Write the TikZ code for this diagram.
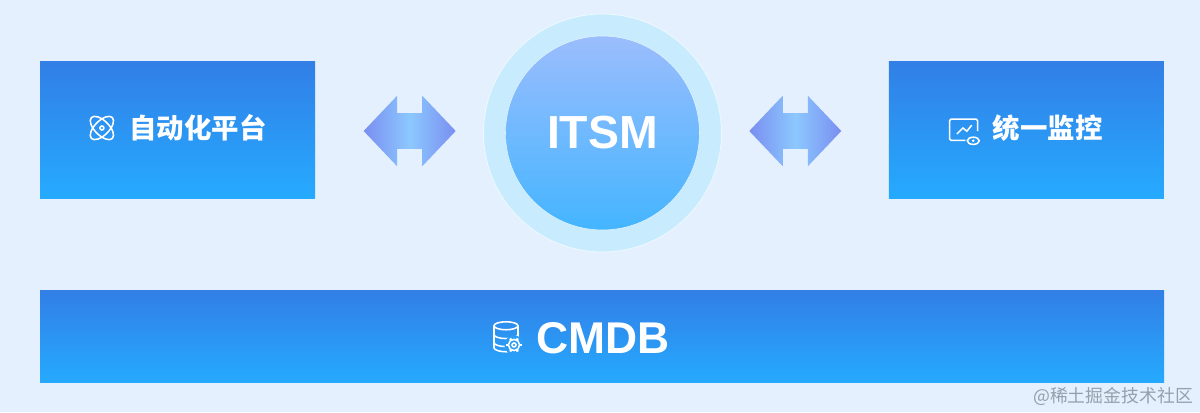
\documentclass[tikz,border=0pt]{standalone}
\usepackage{xcolor}
\usepackage{fontspec}
\setmainfont{Liberation Sans}
\newfontfamily\cjk{Noto Sans CJK SC}
\usepackage{tikz}
\usetikzlibrary{shapes,arrows,positioning,calc}
\definecolor{PageBlue}{RGB}{228, 240, 254}
\definecolor{BoxTop}{RGB}{50, 127, 230}
\definecolor{BoxBottom}{RGB}{37, 170, 254}
\definecolor{RingBlue}{RGB}{200, 236, 253}
\definecolor{CoreTop}{RGB}{155, 189, 253}
\definecolor{CoreBottom}{RGB}{68, 181, 255}
\definecolor{ArrowEnd}{RGB}{122, 142, 240}
\definecolor{ArrowMid}{RGB}{140, 200, 255}
\definecolor{MarkGray}{RGB}{150, 160, 172}
\tikzset{
  atomicon/.pic={
    \draw [rotate=45] (0,0) ellipse (0.37 and 0.18);
    \draw [rotate=-45] (0,0) ellipse (0.37 and 0.18);
    \draw (0,0) circle (0.05);
  },
  screenicon/.pic={
    \draw [rounded corners=1pt] (0.38,-0.28) -- (-0.35,-0.28) -- (-0.35,0.25) -- (0.35,0.25) -- (0.35,-0.05);
    \draw (-0.17,-0.12) -- (-0.02,0.03) -- (0.08,-0.05) -- (0.2,0.1);
    \fill [BoxTop!45!BoxBottom] (0.24,-0.29) ellipse (0.2 and 0.17);
    \draw (0.24,-0.29) ellipse (0.15 and 0.09);
    \fill (0.24,-0.29) circle (0.035);
  },
  dbicon/.pic={
    \draw (0,0.3) ellipse (0.3 and 0.1);
    \draw (-0.3,0.3) -- (-0.3,-0.25) arc (180:360:0.3 and 0.1);
    \draw (0.3,0.3) -- (0.3,-0.25);
    \draw (-0.3,0.08) arc (180:360:0.3 and 0.1);
    \draw (-0.3,-0.12) arc (180:360:0.3 and 0.1);
    \fill [BoxTop!35!BoxBottom] (0.2,-0.18) circle (0.24);
    \foreach \a in {0,60,...,300} {
      \draw [line width=1.6pt] (\a:0.14) ++(0.2,-0.18) -- ++(\a:0.05);
    }
    \draw (0.2,-0.18) circle (0.14);
    \draw (0.2,-0.18) circle (0.05);
  }
}
\begin{document}
\begin{tikzpicture}
  \tikzstyle{bluebox} = [rectangle, top color=BoxTop, bottom color=BoxBottom, minimum height=3.4cm, minimum width=6.875cm, inner sep=0pt]
  \tikzstyle{twoway} = [double arrow, double arrow tip angle=93, double arrow head extend=0.4375cm, text height=0.875cm, text width=0pt, minimum height=2.3cm, inner sep=0pt, left color=ArrowEnd, right color=ArrowEnd, middle color=ArrowMid]
  \tikzstyle{boxlabel} = [text=white, inner sep=0pt, font=\cjk\bfseries\fontsize{19.5pt}{22pt}\selectfont]
  \tikzstyle{iconline} = [white, line width=1.1pt]

  \useasboundingbox (0,0) rectangle (30,10.3);
  \fill [PageBlue] (0,0) rectangle (30,10.3);

  \node [bluebox] (autoPlat) at (4.4375,7.05) {};
  \node [twoway, right=1.2cm of autoPlat, yshift=-0.025cm] (leftArrow) {};
  \node [circle, fill=RingBlue, draw=white!70!RingBlue, line width=0.6pt, minimum size=5.95cm, inner sep=0pt, right=0.675cm of leftArrow, yshift=-0.05cm] (ring) {};
  \node [circle, top color=CoreTop, bottom color=CoreBottom, draw=white!50!RingBlue, line width=0.4pt, minimum size=4.85cm, inner sep=0pt, text=white, font=\bfseries\fontsize{33pt}{36pt}\selectfont] (itsm) at (ring) {\raisebox{-0.1cm}{ITSM}};
  \node [twoway, right=0.675cm of ring, yshift=0.05cm] (rightArrow) {};
  \node [bluebox, right=1.175cm of rightArrow, yshift=0.025cm] (monitor) {};
  \node [bluebox, minimum width=28.1cm, minimum height=2.3cm, below=2.3cm of autoPlat.south west, anchor=north west] (cmdb) {};

  \node [boxlabel] (autoLabel) at ($(autoPlat)+(0.51,0.05)$) {自动化平台};
  \node [boxlabel] (monitorLabel) at ($(monitor)+(0.53,0.05)$) {统一监控};
  \node [text=white, inner sep=0pt, font=\bfseries\fontsize{31.6pt}{34pt}\selectfont] (cmdbLabel) at ($(cmdb)+(0.03,-0.03)$) {CMDB};

  \pic [iconline] at ($(autoPlat)+(-1.89,0.05)$) {atomicon};
  \pic [iconline] at ($(monitor)+(-1.57,0.02)$) {screenicon};
  \pic [iconline] at ($(cmdb)+(-2.4,-0.03)$) {dbicon};

  \node [text=MarkGray, inner sep=0pt, anchor=east, font=\cjk\fontsize{12.7pt}{15pt}\selectfont] (mark) at (29.83,0.39) {@稀土掘金技术社区};
\end{tikzpicture}
\end{document}
